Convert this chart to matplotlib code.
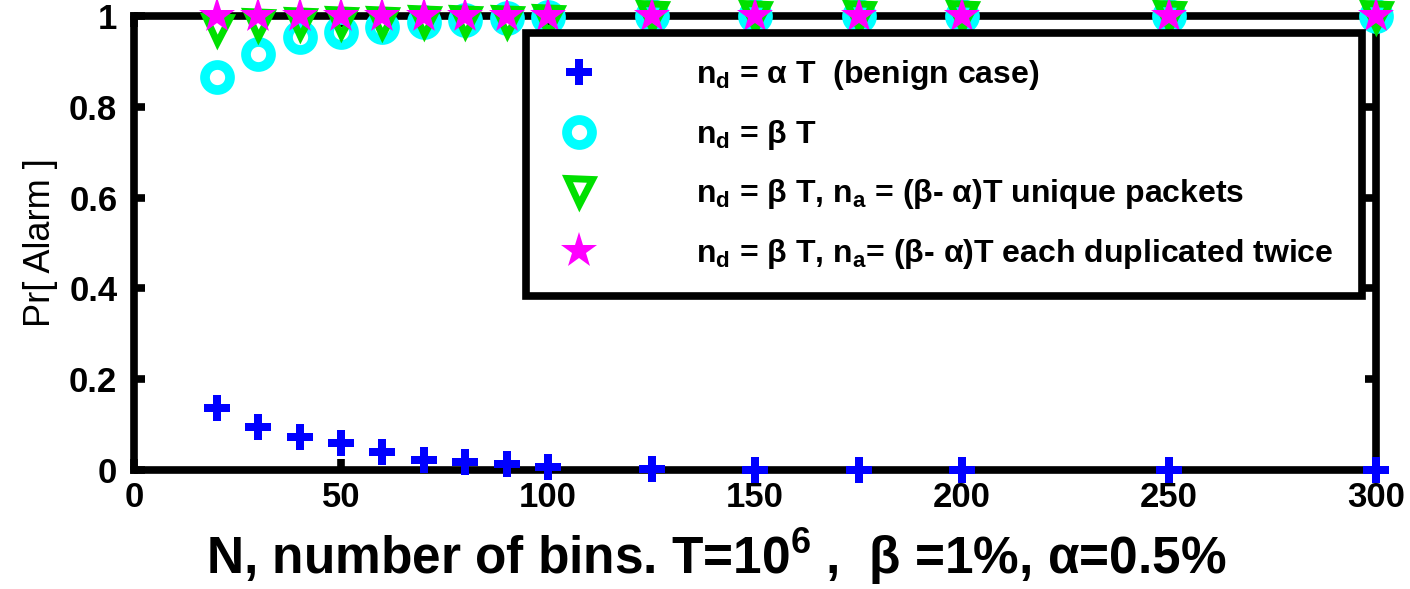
import numpy as np
import matplotlib.pyplot as plt

plt.rcParams['font.family'] = ['Liberation Sans', 'DejaVu Sans']
plt.rcParams['mathtext.fontset'] = 'custom'
plt.rcParams['mathtext.rm'] = 'Liberation Sans:bold'
plt.rcParams['mathtext.it'] = 'Liberation Sans:bold'
plt.rcParams['mathtext.bf'] = 'Liberation Sans:bold'

# number of bins
n_bins = [20, 30, 40, 50, 60, 70, 80, 90, 100, 125, 150, 175, 200, 250, 300]
# Pr[Alarm] for each case
p_benign = [0.137, 0.094, 0.072, 0.059, 0.039, 0.022, 0.018, 0.013, 0.007, 0.002, 0.0, 0.0, 0.0, 0.0, 0.0]
p_beta = [0.866, 0.916, 0.954, 0.964, 0.975, 0.986, 0.99, 0.995, 0.998, 1, 1, 1, 1, 1, 1]
p_unique = [0.972, 0.982, 0.985, 0.986, 0.987, 0.988, 0.988, 0.988, 0.99, 1, 1, 1, 1, 1, 1]
p_dup = [1] * 15

labels = [r'n$_d$ = α T  (benign case)',
          r'n$_d$ = β T',
          r'n$_d$ = β T, n$_a$ = (β- α)T unique packets',
          r'n$_d$ = β T, n$_a$= (β- α)T each duplicated twice']

fig = plt.figure(figsize=(14.1, 5.89), dpi=100)
ax = fig.add_axes([0.095, 0.202, 0.881, 0.771])

kw = dict(ls='none', clip_on=False, zorder=3)
ax.plot(n_bins, p_benign, 'P', color='blue', ms=19, mew=0, label=labels[0], **kw)
ax.plot(n_bins, p_beta, 'o', color='cyan', ms=18, mew=7, mfc='none', label=labels[1], **kw)
ax.plot(n_bins, p_unique, 'v', color='#00e000', ms=18, mew=5, mfc='none', label=labels[2], **kw)
ax.plot(n_bins, p_dup, '*', color='magenta', ms=27, mew=0, label=labels[3], **kw)

ax.set_xlim(0, 300)
ax.set_ylim(0, 1)
ax.set_xticks([0, 50, 100, 150, 200, 250, 300])
ax.set_yticks([0, 0.2, 0.4, 0.6, 0.8, 1])
ax.set_yticklabels(['0', '0.2', '0.4', '0.6', '0.8', '1'])
for s in ax.spines.values():
    s.set_linewidth(5.5)
ax.tick_params(direction='in', length=8, width=5.5, top=True, right=True,
               labelsize=25)
ax.tick_params(axis='x', pad=8)
ax.tick_params(axis='y', pad=12)
for t in ax.get_xticklabels() + ax.get_yticklabels():
    t.set_fontweight('bold')

ax.set_xlabel(r'N, number of bins. T=10$^6$ ,  β =1%, α=0.5%', fontsize=37,
              fontweight='bold')
ax.xaxis.set_label_coords(0.469, -0.125)
ax.set_ylabel('Pr[ Alarm ]', fontsize=26, labelpad=8)

leg = ax.legend(loc='upper left', bbox_to_anchor=(0.316, 0.381, 0.673, 0.582),
                mode='expand', prop={'weight': 'bold', 'size': 23}, fancybox=False,
                framealpha=1, edgecolor='black', labelspacing=0.8,
                handlelength=1.7, handletextpad=2.8, borderpad=0.8, borderaxespad=0)
leg.get_frame().set_linewidth(5.5)
leg.set_zorder(5)

fig.savefig('out.png', dpi=100)
